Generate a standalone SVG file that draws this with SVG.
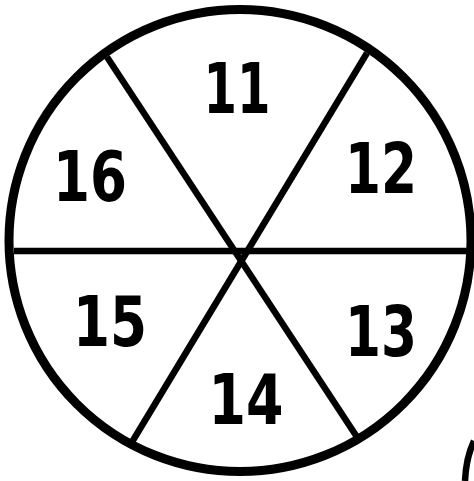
<svg xmlns="http://www.w3.org/2000/svg" width="474" height="481" viewBox="0 0 474 481">
<style>
.lbl{font-family:"DejaVu Sans","Liberation Sans",sans-serif;font-weight:bold;font-size:70px;fill:#000;text-anchor:middle}
.ln{stroke:#000;stroke-width:6.5;fill:none;stroke-linecap:butt}
</style>
<rect width="474" height="481" fill="#fff"/>
<g id="wheel">
<circle cx="240" cy="240.5" r="231" fill="none" stroke="#000" stroke-width="9"/>
</g>
<g id="connectors">
<line class="ln" x1="14" y1="251" x2="467" y2="251"/>
<line class="ln" x1="107" y1="57" x2="357" y2="437"/>
<line class="ln" x1="367" y1="53" x2="132" y2="442"/>
<path class="ln" d="M474 441 Q466 458 465 481"/>
</g>
<g id="n11"><text class="lbl" x="237" y="113" textLength="67" lengthAdjust="spacingAndGlyphs">11</text></g>
<g id="n12"><text class="lbl" x="381" y="193" textLength="72" lengthAdjust="spacingAndGlyphs">12</text></g>
<g id="n13"><text class="lbl" x="381" y="356" textLength="72" lengthAdjust="spacingAndGlyphs">13</text></g>
<g id="n14"><text class="lbl" x="246" y="424" textLength="75" lengthAdjust="spacingAndGlyphs">14</text></g>
<g id="n15"><text class="lbl" x="110" y="346" textLength="74" lengthAdjust="spacingAndGlyphs">15</text></g>
<g id="n16"><text class="lbl" x="90" y="201" textLength="74" lengthAdjust="spacingAndGlyphs">16</text></g>
</svg>
